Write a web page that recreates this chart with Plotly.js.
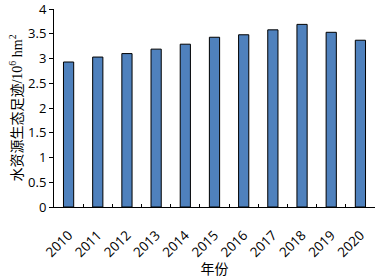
<!DOCTYPE html>
<html><head><meta charset="utf-8">
<script src="https://cdn.plot.ly/plotly-3.0.1.min.js"></script>
<style>html,body{margin:0;padding:0;background:#fff}</style>
</head><body>
<div id="chart" style="width:378px;height:278px"></div>
<script>
const years = ['2010','2011','2012','2013','2014','2015','2016','2017','2018','2019','2020'];
const footprint = [2.93, 3.03, 3.10, 3.19, 3.29, 3.43, 3.48, 3.58, 3.69, 3.53, 3.37];
const yTicks = [0, 0.5, 1, 1.5, 2, 2.5, 3, 3.5, 4];
const yTickText = ['0', '0.5', '1', '1.5', '2', '2.5', '3', '3.5', '4'];
const yTitle = '水资源生态足迹<span style="font-family:Liberation Serif">/10<sup>6</sup> hm<sup>2</sup></span>';
const xTitle = '年份';

Plotly.newPlot('chart', [{
  type: 'bar', x: years, y: footprint,
  marker: {color: '#4F81BD', line: {color: '#000', width: 1}},
  hoverinfo: 'none', cliponaxis: false
}], {
  width: 378, height: 278,
  margin: {l: 54, r: 3, t: 9, b: 71},
  paper_bgcolor: '#fff', plot_bgcolor: '#fff',
  bargap: 0.65,
  showlegend: false,
  xaxis: {
    type: 'category', tickangle: -45,
    tickson: 'boundaries', ticks: 'inside', ticklen: 3, tickcolor: '#000',
    ticklabelstandoff: 14,
    showline: true, linecolor: '#000', linewidth: 1,
    tickfont: {family: 'Open Sans, sans-serif', size: 13.5, color: '#000'},
    title: {text: xTitle, font: {family: 'Noto Sans CJK SC', size: 14, color: '#000'}, standoff: 0},
    fixedrange: true
  },
  yaxis: {
    range: [0, 4.001], tickmode: 'array', tickvals: yTicks, ticktext: yTickText,
    ticklabeloverflow: 'allow',
    showgrid: false, zeroline: false,
    ticks: 'outside', ticklen: 4, tickcolor: '#000',
    showline: true, linecolor: '#000', linewidth: 1,
    tickfont: {family: 'Open Sans, sans-serif', size: 13, color: '#000'},
    title: {text: yTitle, font: {family: 'Noto Sans CJK SC', size: 14, color: '#000'}, standoff: 2},
    fixedrange: true
  }
}, {displayModeBar: false, staticPlot: true});
</script>
</body></html>
